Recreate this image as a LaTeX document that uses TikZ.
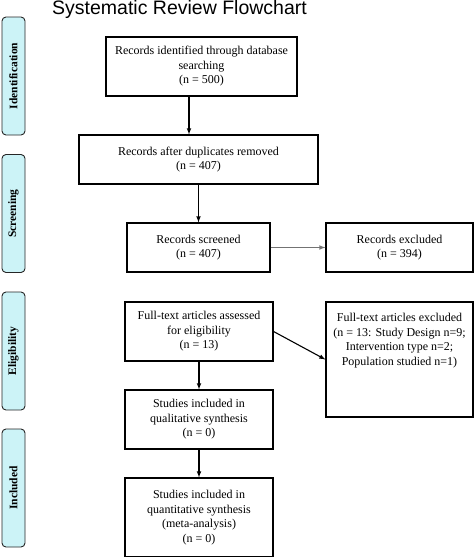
\documentclass[tikz,border=0pt]{standalone}
\usepackage{fontspec}
\setmainfont{Liberation Serif}
\newfontfamily\titlefont{Liberation Sans}
\usepackage{tikz}
\usetikzlibrary{arrows}
\definecolor{stagecyan}{RGB}{204,243,247}
\tikzstyle{box} = [rectangle, draw=black, line width=1.2pt, align=center, font=\fontsize{12}{14.5}\selectfont, inner sep=2pt]
\tikzstyle{stage} = [rectangle, rounded corners=4pt, draw=black!85, line width=0.9pt, fill=stagecyan, minimum width=118pt, minimum height=23pt, rotate=90, font=\fontsize{11.5}{13}\selectfont\bfseries]
\tikzstyle{arrow} = [line width=1.1pt,->,>=latex]

\begin{document}
\begin{tikzpicture}
  \useasboundingbox (0,0) rectangle (474pt,-557pt);
  \node (title) [anchor=base west, inner sep=0pt, font=\titlefont\fontsize{19.5}{22}\selectfont] at (52pt,-14pt) {Systematic Review Flowchart};
  % stages on the left
  \node (ident) [stage] at (13.5pt,-76pt) {Identification};
  \node (screen) [stage] at (13.5pt,-213.5pt) {Screening};
  \node (elig) [stage] at (13.5pt,-351pt) {Eligibility};
  \node (incl) [stage] at (13.5pt,-488pt) {Included};
  % flow boxes
  \node (records) [box, minimum width=191pt, minimum height=59pt] at (201.5pt,-66.5pt) {Records identified through database\\
    searching\\
    (n = 500)};
  \node (dedup) [box, below of = records, xshift=-3pt, yshift=-64.55pt, minimum width=239pt, minimum height=49pt] {Records after duplicates removed\\
    (n = 407)};
  \node (screened) [box, below of = dedup, yshift=-59.55pt, minimum width=143pt, minimum height=49pt] {Records screened\\
    (n = 407)};
  \node (excluded) [box, right of = screened, xshift=172.55pt, minimum width=147pt, minimum height=49pt] {Records excluded\\
    (n = 394)};
  \node (assessed) [box, below of = screened, xshift=0.5pt, yshift=-55.55pt, minimum width=148pt, minimum height=59pt] {Full-text articles assessed\\
    for eligibility\\
    (n = 13)};
  \node (ftexcl) [box, right of = assessed, xshift=172.05pt, yshift=-28pt, minimum width=147pt, minimum height=115pt] {Full-text articles excluded\\
    (n = 13: Study Design n=9;\\
    Intervention type n=2;\\
    Population studied n=1)\\[26pt]\mbox{}};
  \node (qual) [box, below of = assessed, yshift=-59.55pt, minimum width=148pt, minimum height=59pt] {Studies included in\\
    qualitative synthesis\\
    (n = 0)};
  \node (quant) [box, below of = qual, yshift=-69.55pt, minimum width=148pt, minimum height=79pt] {Studies included in\\
    quantitative synthesis\\
    (meta-analysis)\\
    (n = 0)};
  \draw[arrow] ([xshift=-12.5pt]records.south) -- ([xshift=-9.5pt]dedup.north);
  \draw[arrow] (dedup) -- (screened);
  \draw[arrow, draw=black!55] (screened) -- (excluded);
  \draw[arrow] (assessed.east) -- (ftexcl.west);
  \draw[arrow] (assessed) -- (qual);
  \draw[arrow] (qual) -- (quant);
\end{tikzpicture}
\end{document}
